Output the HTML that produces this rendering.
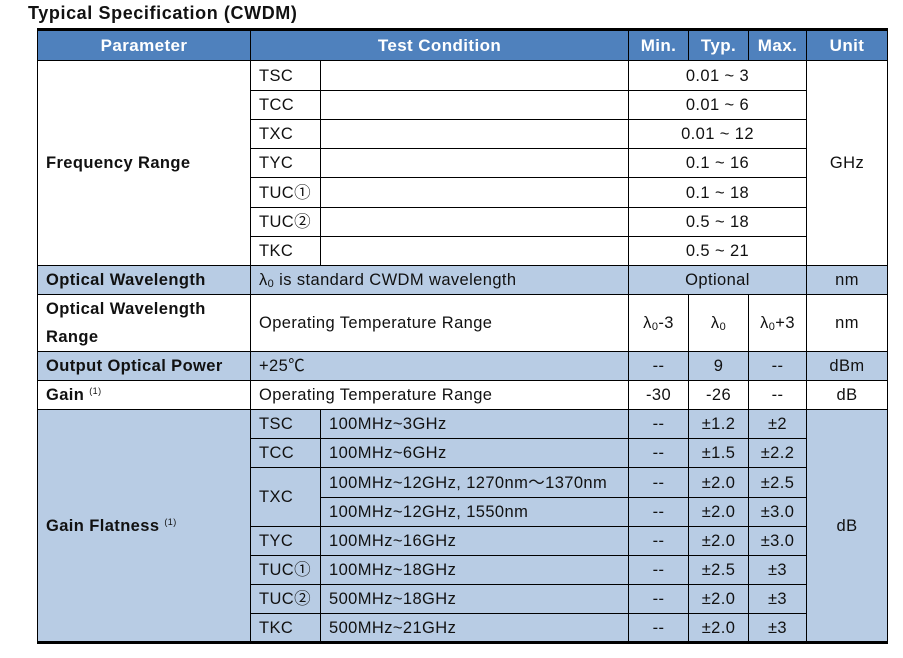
<!DOCTYPE html>
<html><head><meta charset="utf-8"><style>
body{margin:0;width:903px;height:658px;background:#fff;font-family:"Liberation Sans","Noto Sans CJK SC",sans-serif;position:relative;overflow:hidden}
h1{position:absolute;left:28px;top:3px;margin:0;font-size:18px;letter-spacing:0.6px;font-weight:bold;color:#111}
table{position:absolute;left:37px;top:28px;border-collapse:collapse;table-layout:fixed;font-size:16.5px;letter-spacing:0.4px;color:#111}
td,th{border:1px solid #000;padding:0 0 0 8px;white-space:nowrap;overflow:hidden;line-height:20px}
th{background:#4f81bd;color:#fff;font-weight:bold;text-align:center;padding:0;border-top:3px solid #000;font-size:17px}
.c{text-align:center;padding:0}
.b{font-weight:bold}
.bl td{background:#b8cce4}
sup{font-size:9px;font-weight:normal;line-height:0;vertical-align:6px}
.s{font-size:11px;line-height:0;vertical-align:-2px}
.bot{border-bottom:3px solid #000}
</style></head><body>
<h1>Typical Specification (CWDM)</h1>
<table>
<colgroup><col style="width:213px"><col style="width:70px"><col style="width:308px"><col style="width:60px"><col style="width:60px"><col style="width:58px"><col style="width:81px"></colgroup>
<tr style="height:31px"><th>Parameter</th><th colspan="2">Test Condition</th><th>Min.</th><th>Typ.</th><th>Max.</th><th>Unit</th></tr>
<tr style="height:30px"><td rowspan="7" class="b">Frequency Range</td><td>TSC</td><td></td><td colspan="3" class="c">0.01 ~ 3</td><td rowspan="7" class="c">GHz</td></tr>
<tr style="height:29px"><td>TCC</td><td></td><td colspan="3" class="c">0.01 ~ 6</td></tr>
<tr style="height:29px"><td>TXC</td><td></td><td colspan="3" class="c">0.01 ~ 12</td></tr>
<tr style="height:29px"><td>TYC</td><td></td><td colspan="3" class="c">0.1 ~ 16</td></tr>
<tr style="height:30px"><td>TUC①</td><td></td><td colspan="3" class="c">0.1 ~ 18</td></tr>
<tr style="height:29px"><td>TUC②</td><td></td><td colspan="3" class="c">0.5 ~ 18</td></tr>
<tr style="height:29px"><td>TKC</td><td></td><td colspan="3" class="c">0.5 ~ 21</td></tr>
<tr class="bl" style="height:29px"><td class="b">Optical Wavelength</td><td colspan="2">λ<span class="s">0</span> is standard CWDM wavelength</td><td colspan="3" class="c">Optional</td><td class="c">nm</td></tr>
<tr style="height:57px"><td class="b" style="line-height:28px">Optical Wavelength<br>Range</td><td colspan="2">Operating Temperature Range</td><td class="c">λ<span class="s">0</span>-3</td><td class="c">λ<span class="s">0</span></td><td class="c">λ<span class="s">0</span>+3</td><td class="c">nm</td></tr>
<tr class="bl" style="height:29px"><td class="b">Output Optical Power</td><td colspan="2">+25℃</td><td class="c">--</td><td class="c">9</td><td class="c">--</td><td class="c">dBm</td></tr>
<tr style="height:29px"><td class="b">Gain <sup>(1)</sup></td><td colspan="2">Operating Temperature Range</td><td class="c">-30</td><td class="c">-26</td><td class="c">--</td><td class="c">dB</td></tr>
<tr class="bl" style="height:29px"><td rowspan="8" class="b bot">Gain Flatness <sup>(1)</sup></td><td>TSC</td><td>100MHz~3GHz</td><td class="c">--</td><td class="c">±1.2</td><td class="c">±2</td><td rowspan="8" class="c bot">dB</td></tr>
<tr class="bl" style="height:29px"><td>TCC</td><td>100MHz~6GHz</td><td class="c">--</td><td class="c">±1.5</td><td class="c">±2.2</td></tr>
<tr class="bl" style="height:30px"><td rowspan="2">TXC</td><td>100MHz~12GHz, 1270nm～1370nm</td><td class="c">--</td><td class="c">±2.0</td><td class="c">±2.5</td></tr>
<tr class="bl" style="height:29px"><td>100MHz~12GHz, 1550nm</td><td class="c">--</td><td class="c">±2.0</td><td class="c">±3.0</td></tr>
<tr class="bl" style="height:29px"><td>TYC</td><td>100MHz~16GHz</td><td class="c">--</td><td class="c">±2.0</td><td class="c">±3.0</td></tr>
<tr class="bl" style="height:29px"><td>TUC①</td><td>100MHz~18GHz</td><td class="c">--</td><td class="c">±2.5</td><td class="c">±3</td></tr>
<tr class="bl" style="height:29px"><td>TUC②</td><td>500MHz~18GHz</td><td class="c">--</td><td class="c">±2.0</td><td class="c">±3</td></tr>
<tr class="bl" style="height:29px"><td class="bot">TKC</td><td class="bot">500MHz~21GHz</td><td class="c bot">--</td><td class="c bot">±2.0</td><td class="c bot">±3</td></tr>
</table>
</body></html>
